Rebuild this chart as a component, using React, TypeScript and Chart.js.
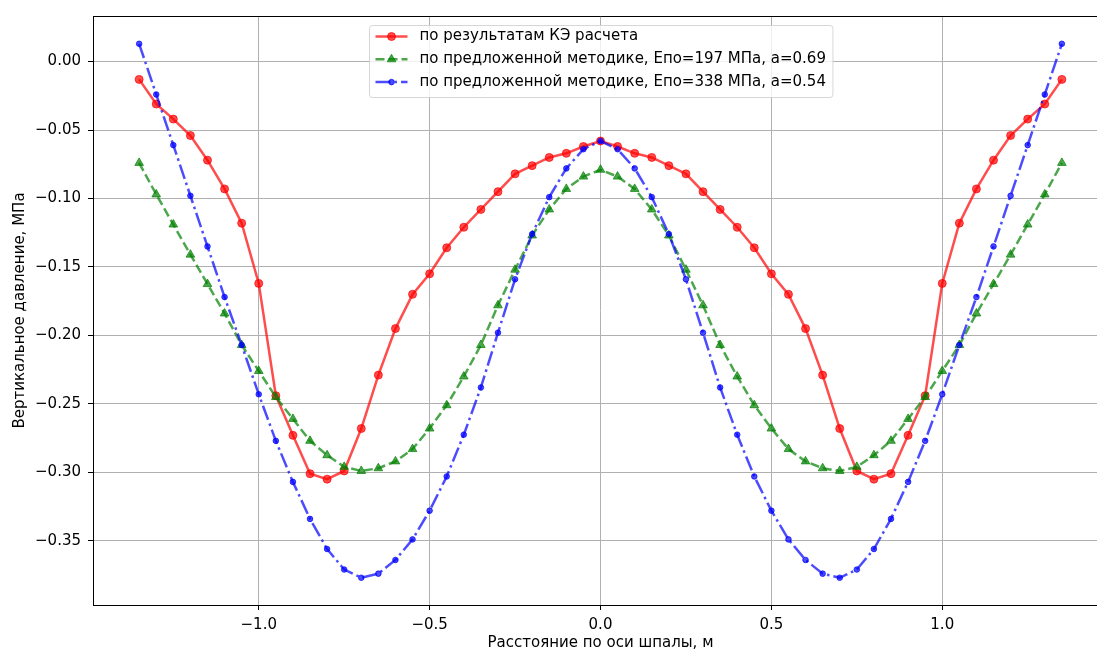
import React, { useEffect, useRef } from "react";
import { Chart, registerables } from "chart.js";

Chart.register(...registerables);

const xValues = [
  -1.35, -1.3, -1.25, -1.2, -1.15, -1.1, -1.05, -1.0, -0.95, -0.9, -0.85, -0.8, -0.75, -0.7,
  -0.65, -0.6, -0.55, -0.5, -0.45, -0.4, -0.35, -0.3, -0.25, -0.2, -0.15, -0.1, -0.05, 0.0,
  0.05, 0.1, 0.15, 0.2, 0.25, 0.3, 0.35, 0.4, 0.45, 0.5, 0.55, 0.6, 0.65, 0.7, 0.75, 0.8,
  0.85, 0.9, 0.95, 1.0, 1.05, 1.1, 1.15, 1.2, 1.25, 1.3, 1.35,
];

const feValues = [
  -0.013, -0.031, -0.042, -0.054, -0.072, -0.093, -0.118, -0.162, -0.244, -0.273, -0.301, -0.305,
  -0.299, -0.268, -0.229, -0.195, -0.17, -0.155, -0.136, -0.121, -0.108, -0.095, -0.082, -0.076,
  -0.07, -0.067, -0.062, -0.058,
  -0.062, -0.067, -0.07, -0.076, -0.082, -0.095, -0.108, -0.121, -0.136, -0.155, -0.17, -0.195,
  -0.229, -0.268, -0.299, -0.305, -0.301, -0.273, -0.244, -0.162, -0.118, -0.093, -0.072, -0.054,
  -0.042, -0.031, -0.013,
];

const method197Values = [
  -0.074, -0.097, -0.119, -0.141, -0.1625, -0.184, -0.207, -0.226, -0.245, -0.261, -0.277, -0.2875,
  -0.296, -0.299, -0.297, -0.292, -0.283, -0.268, -0.251, -0.23, -0.207, -0.178, -0.152, -0.127,
  -0.108, -0.093, -0.084, -0.079,
  -0.084, -0.093, -0.108, -0.127, -0.152, -0.178, -0.207, -0.23, -0.251, -0.268, -0.283, -0.292,
  -0.297, -0.299, -0.296, -0.2875, -0.277, -0.261, -0.245, -0.226, -0.207, -0.184, -0.1625, -0.141,
  -0.119, -0.097, -0.074,
];

const method338Values = [
  0.013, -0.024, -0.061, -0.098, -0.135, -0.172, -0.207, -0.243, -0.277, -0.307, -0.334, -0.356,
  -0.371, -0.377, -0.374, -0.364, -0.349, -0.328, -0.303, -0.2725, -0.238, -0.198, -0.159, -0.126,
  -0.099, -0.078, -0.064, -0.058,
  -0.064, -0.078, -0.099, -0.126, -0.159, -0.198, -0.238, -0.2725, -0.303, -0.328, -0.349, -0.364,
  -0.374, -0.377, -0.371, -0.356, -0.334, -0.307, -0.277, -0.243, -0.207, -0.172, -0.135, -0.098,
  -0.061, -0.024, 0.013,
];

const seriesLabels = [
  "по результатам КЭ расчета",
  "по предложенной методике, Епо=197 МПа, a=0.69",
  "по предложенной методике, Епо=338 МПа, a=0.54",
];

const xTicks = [-1.0, -0.5, 0.0, 0.5, 1.0];
const yTicks = [0.0, -0.05, -0.1, -0.15, -0.2, -0.25, -0.3, -0.35];

const xTitle = "Расстояние по оси шпалы, м";
const yTitle = "Вертикальное давление, МПа";

const FONT = "'DejaVu Sans', sans-serif";
const FSIZE = 15;

const fmt = (v: number, d: number) => {
  const s = Math.abs(v).toFixed(d);
  return v < -1e-9 ? "\u2212" + s : s;
};

function drawMarker(ctx: CanvasRenderingContext2D, style: string, x: number, y: number, r: number) {
  ctx.beginPath();
  if (style === "triangle") {
    let rad = 0;
    const t = (2 * Math.PI) / 3;
    ctx.moveTo(x + Math.sin(rad) * r, y - Math.cos(rad) * r);
    rad += t;
    ctx.lineTo(x + Math.sin(rad) * r, y - Math.cos(rad) * r);
    rad += t;
    ctx.lineTo(x + Math.sin(rad) * r, y - Math.cos(rad) * r);
    ctx.closePath();
  } else {
    ctx.arc(x, y, r, 0, Math.PI * 2);
  }
  ctx.fill();
  ctx.stroke();
}

const framePlugin = {
  id: "frameAndLegend",
  afterDraw(chart: any) {
    const ctx: CanvasRenderingContext2D = chart.ctx;
    const a = chart.chartArea;
    ctx.save();
    // top and right spines
    ctx.strokeStyle = "#000";
    ctx.lineWidth = 1;
    ctx.beginPath();
    ctx.moveTo(a.left, a.top + 0.5);
    ctx.lineTo(a.right, a.top + 0.5);
    ctx.stroke();
    ctx.beginPath();
    ctx.moveTo(a.right - 0.5, a.top);
    ctx.lineTo(a.right - 0.5, a.bottom);
    ctx.stroke();

    // legend
    ctx.font = `${FSIZE}px ${FONT}`;
    const dsets = chart.data.datasets;
    let maxW = 0;
    dsets.forEach((d: any) => {
      maxW = Math.max(maxW, ctx.measureText(d.label).width);
    });
    const padL = 6;
    const lineLen = 32;
    const gap = 12;
    const padR = 7;
    const boxW = padL + lineLen + gap + maxW + padR;
    const rowH = 22.8;
    const boxH = 72;
    const cx = (a.left + a.right) / 2;
    const bx = Math.round(cx - boxW / 2) + 0.5;
    const by = a.top + 9.5;
    const rr = 3;
    ctx.beginPath();
    ctx.moveTo(bx + rr, by);
    ctx.lineTo(bx + boxW - rr, by);
    ctx.quadraticCurveTo(bx + boxW, by, bx + boxW, by + rr);
    ctx.lineTo(bx + boxW, by + boxH - rr);
    ctx.quadraticCurveTo(bx + boxW, by + boxH, bx + boxW - rr, by + boxH);
    ctx.lineTo(bx + rr, by + boxH);
    ctx.quadraticCurveTo(bx, by + boxH, bx, by + boxH - rr);
    ctx.lineTo(bx, by + rr);
    ctx.quadraticCurveTo(bx, by, bx + rr, by);
    ctx.closePath();
    ctx.fillStyle = "rgba(255,255,255,0.8)";
    ctx.fill();
    ctx.strokeStyle = "rgba(204,204,204,0.8)";
    ctx.lineWidth = 1;
    ctx.stroke();

    dsets.forEach((d: any, i: number) => {
      const y = by + 11 + i * rowH;
      const x0 = bx + padL;
      ctx.strokeStyle = d.borderColor;
      ctx.lineWidth = d.borderWidth;
      ctx.setLineDash(d.borderDash || []);
      ctx.beginPath();
      ctx.moveTo(x0, y);
      ctx.lineTo(x0 + lineLen, y);
      ctx.stroke();
      ctx.setLineDash([]);
      ctx.fillStyle = d.pointBackgroundColor;
      ctx.strokeStyle = d.pointBorderColor;
      ctx.lineWidth = d.pointBorderWidth;
      drawMarker(ctx, d.pointStyle, x0 + lineLen / 2, y, d.pointRadius);
      ctx.fillStyle = "#000";
      ctx.textBaseline = "middle";
      ctx.textAlign = "left";
      ctx.fillText(d.label, x0 + lineLen + gap, y);
    });
    ctx.restore();
  },
};

export default function App() {
  const ref = useRef<HTMLCanvasElement | null>(null);

  useEffect(() => {
    if (!ref.current) return;
    const red = "rgba(255,0,0,0.7)";
    const green = "rgba(0,128,0,0.7)";
    const blue = "rgba(0,0,255,0.7)";
    const mk = (vals: number[]) => xValues.map((x, i) => ({ x, y: vals[i] }));
    const chart = new Chart(ref.current, {
      type: "line",
      data: {
        datasets: [
          {
            label: seriesLabels[0],
            data: mk(feValues),
            borderColor: red,
            backgroundColor: red,
            pointBackgroundColor: red,
            pointBorderColor: red,
            borderWidth: 2.5,
            pointRadius: 4,
            pointBorderWidth: 1,
            pointStyle: "circle",
            order: 3,
          },
          {
            label: seriesLabels[1],
            data: mk(method197Values),
            borderColor: green,
            backgroundColor: green,
            pointBackgroundColor: green,
            pointBorderColor: green,
            borderWidth: 2.5,
            borderDash: [9, 4],
            pointRadius: 5,
            pointBorderWidth: 1,
            pointStyle: "triangle",
            order: 2,
          },
          {
            label: seriesLabels[2],
            data: mk(method338Values),
            borderColor: blue,
            backgroundColor: blue,
            pointBackgroundColor: blue,
            pointBorderColor: blue,
            borderWidth: 2.5,
            borderDash: [15, 4, 2.5, 4],
            pointRadius: 2.8,
            pointBorderWidth: 1,
            pointStyle: "circle",
            order: 1,
          },
        ] as any,
      },
      options: {
        animation: false,
        responsive: false,
        devicePixelRatio: 1,
        layout: { padding: { top: 15, right: 4, left: 0, bottom: 0 } },
        plugins: {
          legend: { display: false },
          tooltip: { enabled: false },
        },
        elements: { line: { tension: 0 } },
        scales: {
          x: {
            type: "linear",
            min: -1.485,
            max: 1.485,
            afterFit: (s: any) => {
              s.height = 45;
            },
            afterBuildTicks: (s: any) => {
              s.ticks = xTicks.map((v) => ({ value: v }));
            },
            ticks: {
              color: "#000",
              font: { family: FONT, size: FSIZE },
              padding: 6,
              maxRotation: 0,
              autoSkip: false,
              callback: (v: any) => fmt(Number(v), 1),
            },
            grid: {
              color: "#b0b0b0",
              lineWidth: 1,
              drawTicks: true,
              tickLength: 5,
              tickColor: "#000",
            },
            border: { display: true, color: "#000", width: 1 },
            title: {
              display: true,
              text: xTitle,
              color: "#000",
              font: { family: FONT, size: FSIZE, lineHeight: 0.9 },
              padding: { top: 0, bottom: 0 },
            },
          },
          y: {
            type: "linear",
            min: -0.3969,
            max: 0.0333,
            afterFit: (s: any) => {
              s.width = 93;
            },
            afterBuildTicks: (s: any) => {
              s.ticks = yTicks.map((v) => ({ value: v }));
            },
            ticks: {
              color: "#000",
              font: { family: FONT, size: FSIZE },
              padding: 7,
              autoSkip: false,
              callback: (v: any) => fmt(Number(v), 2),
            },
            grid: {
              color: "#b0b0b0",
              lineWidth: 1,
              drawTicks: true,
              tickLength: 5,
              tickColor: "#000",
            },
            border: { display: true, color: "#000", width: 1 },
            title: {
              display: true,
              text: yTitle,
              color: "#000",
              font: { family: FONT, size: FSIZE },
              padding: { top: 11, bottom: 0 },
            },
          },
        },
      },
      plugins: [framePlugin],
    });
    return () => chart.destroy();
  }, []);

  return (
    <div
      style={{
        position: "fixed",
        left: 0,
        top: 0,
        width: 1097,
        height: 650,
        overflow: "hidden",
        background: "#fff",
      }}
    >
      <canvas ref={ref} width={1114} height={650} style={{ display: "block", width: 1114, height: 650 }} />
    </div>
  );
}
